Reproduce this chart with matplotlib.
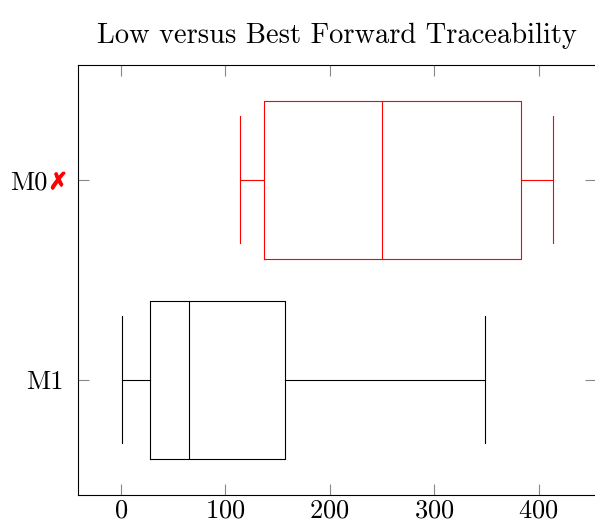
import matplotlib
matplotlib.use("Agg")
import matplotlib.pyplot as plt
import matplotlib.patheffects as pe

plt.rcParams['font.family'] = ['cmr10', 'DejaVu Sans']
plt.rcParams['axes.formatter.use_mathtext'] = True

# box statistics
models = ['M1', 'M0']
whislo = [1, 114]
q1 = [28, 137]
med = [65, 250]
q3 = [157, 383]
whishi = [349, 414]
colors = ['black', 'red']

stats = []
for i in range(len(models)):
    stats.append({'label': models[i], 'whislo': whislo[i], 'q1': q1[i],
                  'med': med[i], 'q3': q3[i], 'whishi': whishi[i],
                  'fliers': []})

fig = plt.figure(figsize=(5.95, 5.28), dpi=100)
ax = fig.add_axes([0.1316, 0.0625, 0.8701, 0.8144])

lw = 0.8
for i, s in enumerate(stats):
    c = colors[i]
    ax.bxp([s], positions=[i + 1], widths=0.79, capwidths=0.635, vert=False,
           showfliers=False, patch_artist=False,
           boxprops=dict(color=c, linewidth=lw),
           whiskerprops=dict(color=c, linewidth=lw),
           capprops=dict(color=c, linewidth=lw),
           medianprops=dict(color=c, linewidth=lw))

ax.set_xlim(-40.5, 455)
ax.set_ylim(0.425, 2.575)
ax.set_xticks([0, 100, 200, 300, 400])
ax.set_yticks([1, 2])
ax.set_yticklabels(models)

ax.tick_params(axis='both', which='both', direction='in', length=8,
               width=0.8, color='#888888', labelsize=19,
               top=True, right=True)
ax.tick_params(axis='y', pad=10.5)
ax.tick_params(axis='x', pad=3)
ax.yaxis.get_major_ticks()[1].set_pad(22)

ax.annotate('\u2717', xy=(0, 2), xycoords=ax.get_yaxis_transform(),
            xytext=(-7.5, 0), textcoords='offset points', ha='right',
            va='center_baseline', color='red', fontsize=16.5,
            fontweight='bold', family='DejaVu Sans', annotation_clip=False,
            path_effects=[pe.withStroke(linewidth=0.9, foreground='red')])

for sp in ax.spines.values():
    sp.set_linewidth(0.8)

ax.set_title('Low versus Best Forward Traceability', fontsize=20.5, pad=16)

fig.savefig('out.png', dpi=100)
